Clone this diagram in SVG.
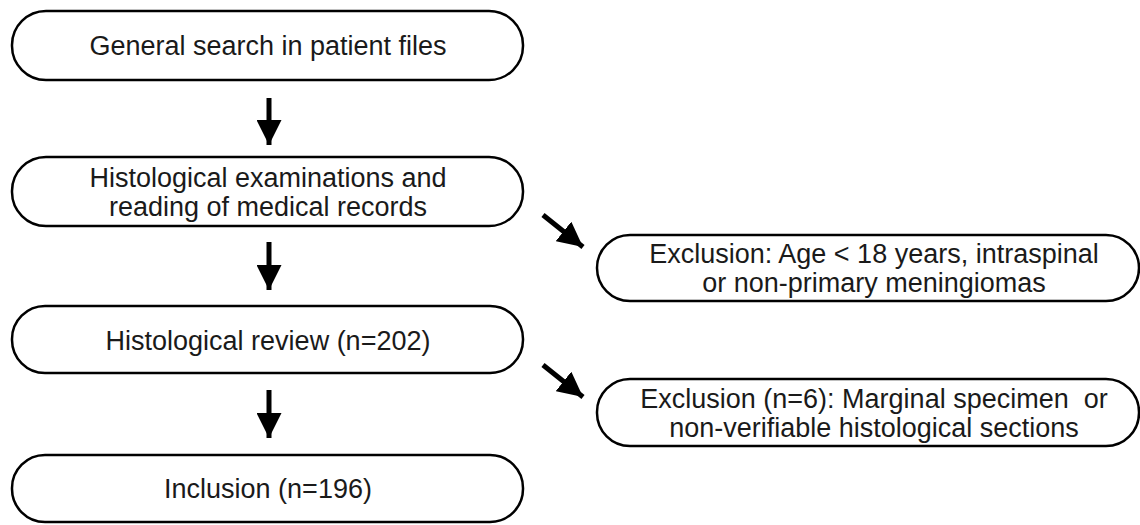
<svg xmlns="http://www.w3.org/2000/svg" width="1140" height="525" viewBox="0 0 1140 525">
<defs>
<style>
.box{fill:#fff;stroke:#000;stroke-width:2.5}
.t{font-family:"Liberation Sans",Arial,sans-serif;font-size:27px;fill:#1a1a1a;text-anchor:middle}
.c{stroke:#000;stroke-width:5;fill:none}
</style>
<marker id="ah" viewBox="0 0 10 10" refX="10" refY="5" markerWidth="5" markerHeight="5" markerUnits="strokeWidth" orient="auto">
<path d="M0,0 L10,5 L0,10 z" fill="#000"/>
</marker>
</defs>
<rect width="1140" height="525" fill="#fff"/>
<g id="n1"><rect class="box" x="12" y="11" width="511" height="69" rx="34" ry="34"/>
<text class="t" x="268" y="55">General search in patient files</text></g>
<g id="n2"><rect class="box" x="12" y="157" width="511" height="69" rx="34" ry="34"/>
<text class="t" x="268" y="187">Histological examinations and</text>
<text class="t" x="268" y="216">reading of medical records</text></g>
<g id="n3"><rect class="box" x="12" y="306" width="511" height="67" rx="33" ry="33"/>
<text class="t" x="268" y="350">Histological review (n=202)</text></g>
<g id="n4"><rect class="box" x="12" y="455" width="511" height="67" rx="33" ry="33"/>
<text class="t" x="268" y="498">Inclusion (n=196)</text></g>
<g id="n5"><rect class="box" x="597" y="235" width="542" height="66" rx="33" ry="33"/>
<text class="t" x="874" y="263">Exclusion: Age &lt; 18 years, intraspinal</text>
<text class="t" x="874" y="292">or non-primary meningiomas</text></g>
<g id="n6"><rect class="box" x="597" y="379" width="542" height="67" rx="33" ry="33"/>
<text class="t" x="874" y="408" xml:space="preserve">Exclusion (n=6): Marginal specimen  or</text>
<text class="t" x="874" y="437">non-verifiable histological sections</text></g>
<g id="connectors">
<line class="c" x1="269" y1="98" x2="269" y2="145" marker-end="url(#ah)"/>
<line class="c" x1="269" y1="242" x2="269" y2="290" marker-end="url(#ah)"/>
<line class="c" x1="269" y1="390" x2="269" y2="438" marker-end="url(#ah)"/>
<line class="c" x1="543" y1="215" x2="583" y2="247" marker-end="url(#ah)"/>
<line class="c" x1="543" y1="365" x2="583" y2="397" marker-end="url(#ah)"/>
</g>
</svg>
